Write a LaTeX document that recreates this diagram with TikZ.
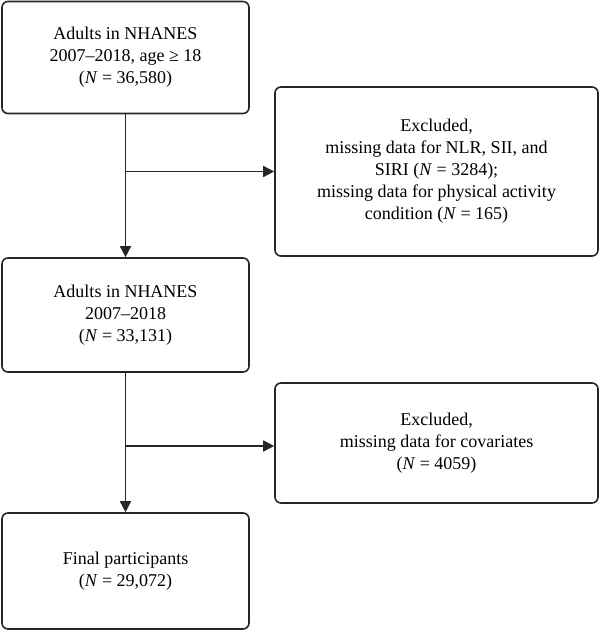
\documentclass[tikz,border=0pt]{standalone}
\usepackage{fontspec}
\setmainfont{Liberation Serif}
\usetikzlibrary{arrows.meta}
\begin{document}
\begin{tikzpicture}[x=1pt,y=-1pt,
  flowbox/.style={draw=black!85,line width=1.6pt,rounded corners=6pt,
    align=center,inner sep=0pt,font=\fontsize{18}{22}\selectfont},
  conn/.style={draw=black!85,line width=1.5pt},
  arr/.style={conn,-{Triangle[length=11pt,width=11pt]}}]
\useasboundingbox (0,0) rectangle (600,631);
\node[flowbox,minimum width=247pt,minimum height=112pt] (b1) at (125.5,57.5)
  {Adults in NHANES\\2007–2018, age ≥ 18\\(\textit{N} = 36,580)};
\node[flowbox,minimum width=323pt,minimum height=169pt] (b2) at (436.5,171.5)
  {Excluded,\\missing data for NLR, SII, and\\SIRI (\textit{N} = 3284);\\missing data for physical activity\\condition (\textit{N} = 165)};
\node[flowbox,minimum width=247pt,minimum height=114pt] (b3) at (125.5,315)
  {Adults in NHANES\\2007–2018\\(\textit{N} = 33,131)};
\node[flowbox,minimum width=323pt,minimum height=120pt] (b4) at (436.5,443)
  {\raisebox{6pt}{\begin{tabular}{@{}c@{}}Excluded,\\missing data for covariates\\(\textit{N} = 4059)\end{tabular}}};
\node[flowbox,minimum width=247pt,minimum height=116pt] (b5) at (125.5,571)
  {Final participants\\(\textit{N} = 29,072)};
\coordinate (j1) at (b1.south |- b2.west);
\coordinate (j2) at (125.5,446);
\draw[arr] (b1.south) -- (b3.north);
\draw[arr] (j1) -- (b2.west);
\draw[arr] (b3.south) -- (b5.north);
\draw[arr] (j2) -- (b4.west |- j2);
\end{tikzpicture}
\end{document}
